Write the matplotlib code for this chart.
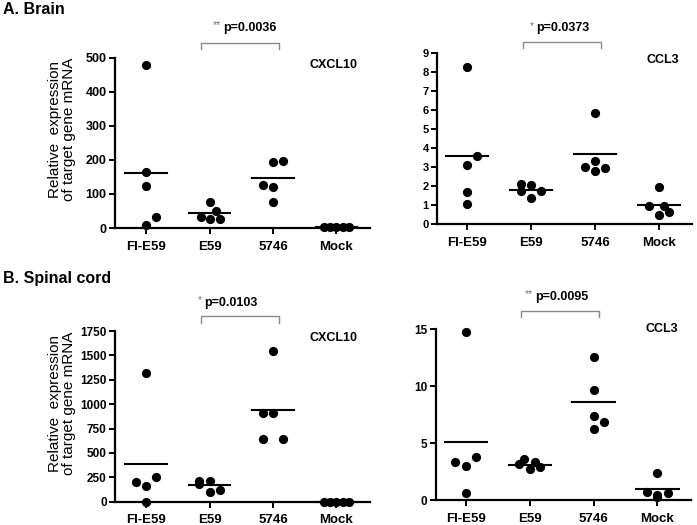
"""
Chemokine mRNA in brain and spinal cord: dot plots with group means.
"""
import matplotlib
matplotlib.use("Agg")
import matplotlib.pyplot as plt
import matplotlib.transforms as mtransforms

plt.rcParams["font.family"] = ["Liberation Sans", "DejaVu Sans"]

groups = ["FI-E59", "E59", "5746", "Mock"]

# A. Brain, CXCL10
brain_cxcl10 = [[478, 164, 124, 31, 10], [76, 49, 32, 26, 27],
                [195, 198, 127, 119, 76], [2, 2, 2, 2, 2]]
brain_cxcl10_mean = [162, 44, 146, 2]
brain_cxcl10_dx = [[0, 0, 0, 0.16, 0], [0, 0.1, -0.14, 0, 0.17],
                   [0, 0.16, -0.16, 0, 0], [-0.19, -0.1, 0, 0.1, 0.19]]

# A. Brain, CCL3
brain_ccl3 = [[8.30, 3.59, 3.13, 1.69, 1.07], [2.13, 2.04, 1.74, 1.74, 1.37],
              [5.87, 3.34, 2.99, 2.81, 2.97], [1.97, 0.93, 0.93, 0.47, 0.63]]
brain_ccl3_mean = [3.59, 1.81, 3.67, 1.02]
brain_ccl3_dx = [[0, 0.16, 0, 0, 0], [-0.16, 0, 0.16, -0.16, 0],
                 [0, 0, -0.16, 0, 0.16], [0, -0.16, 0.08, 0, 0.16]]

# B. Spinal cord, CXCL10
spinal_cxcl10 = [[1323, 256, 202, 161, 0], [215, 212, 185, 96, 120],
                 [1548, 912, 912, 639, 646], [0, 0, 0, 0, 0]]
spinal_cxcl10_mean = [390, 171, 936, 0]
spinal_cxcl10_dx = [[0, 0.16, -0.16, 0, 0], [-0.16, 0, -0.16, 0, 0.16],
                    [0, -0.16, 0, -0.16, 0.16], [-0.19, -0.1, 0, 0.1, 0.19]]

# B. Spinal cord, CCL3
spinal_ccl3 = [[14.7, 3.36, 3.74, 2.98, 0.58], [3.57, 3.30, 3.13, 2.69, 2.87],
               [12.57, 9.65, 7.40, 6.81, 6.23], [2.40, 0.73, 0.47, 0.58, 0.29]]
spinal_ccl3_mean = [5.12, 3.10, 8.60, 0.99]
spinal_ccl3_dx = [[0, -0.16, 0.16, 0, 0], [-0.08, 0.08, -0.16, 0, 0.16],
                  [0, 0, 0, 0.16, 0], [0, -0.16, 0, 0.16, 0]]


def dot_panel(ax, vals, means, dx, yticks, gene, stars, pval,
              xlim, bracket_y, text_y, text_x, ytick_size, gene_y=0.96):
    for i, (v, d) in enumerate(zip(vals, dx)):
        ax.scatter([i + o for o in d], v, s=44, color="black", zorder=3,
                   clip_on=False, linewidths=0)
        ax.plot([i - 0.33, i + 0.33], [means[i]] * 2, color="black",
                lw=1.5, zorder=2, clip_on=False)
    ax.set_xlim(*xlim)
    ax.set_ylim(yticks[0], yticks[-1])
    ax.set_yticks(yticks)
    ax.set_xticks(range(len(groups)))
    ax.set_xticklabels(groups, fontsize=9.5, fontweight="bold")
    for lab in ax.get_yticklabels():
        lab.set_fontweight("bold")
        lab.set_fontsize(ytick_size)
    for s in ("top", "right"):
        ax.spines[s].set_visible(False)
    for s in ("left", "bottom"):
        ax.spines[s].set_linewidth(1.6)
    ax.tick_params(axis="both", direction="out", width=1.4, length=4, pad=2)
    ax.tick_params(axis="x", pad=5)

    trans = mtransforms.blended_transform_factory(ax.transData, ax.transAxes)
    top, tick = bracket_y
    ax.plot([0.87, 0.87, 2.09, 2.09], [tick, top, top, tick], color="#8a8a8a",
            lw=1.0, transform=trans, clip_on=False)
    ax.text(text_x, text_y, pval, transform=trans, ha="left", va="center",
            fontsize=9, fontweight="bold")
    ax.annotate(stars, xy=(text_x, text_y), xycoords=trans,
                xytext=(-1.5, 2), textcoords="offset points",
                ha="right", va="center", fontsize=7.5, color="#777777")
    ax.text(0.95, gene_y, gene, transform=ax.transAxes, ha="right",
            va="center", fontsize=9, fontweight="bold")


fig = plt.figure(figsize=(6.97, 5.25), dpi=100)

ax1 = fig.add_axes([0.165, 0.5657, 0.366, 0.3244])
dot_panel(ax1, brain_cxcl10, brain_cxcl10_mean, brain_cxcl10_dx,
          [0, 100, 200, 300, 400, 500], "CXCL10", "**", "p=0.0036",
          (-0.49, 3.53), (1.088, 1.049), 1.174, 1.22, 9)

ax2 = fig.add_axes([0.627, 0.5733, 0.366, 0.325])
dot_panel(ax2, brain_ccl3, brain_ccl3_mean, brain_ccl3_dx,
          list(range(10)), "CCL3", "*", "p=0.0373",
          (-0.47, 3.52), (1.068, 1.029), 1.146, 1.08, 8)

ax3 = fig.add_axes([0.165, 0.0444, 0.366, 0.325])
dot_panel(ax3, spinal_cxcl10, spinal_cxcl10_mean, spinal_cxcl10_dx,
          [0, 250, 500, 750, 1000, 1250, 1500, 1750], "CXCL10", "*", "p=0.0103",
          (-0.49, 3.53), (1.088, 1.049), 1.166, 0.92, 8.5)

ax4 = fig.add_axes([0.625, 0.0476, 0.366, 0.3257])
dot_panel(ax4, spinal_ccl3, spinal_ccl3_mean, spinal_ccl3_dx,
          [0, 5, 10, 15], "CCL3", "**", "p=0.0095",
          (-0.47, 3.52), (1.107, 1.072), 1.189, 1.09, 8.5, gene_y=1.0)

ylab = "Relative  expression\nof target gene mRNA"
fig.text(0.089, 0.754, ylab, rotation=90, ha="center", va="center",
         fontsize=11, linespacing=1.0)
fig.text(0.089, 0.232, ylab, rotation=90, ha="center", va="center",
         fontsize=11, linespacing=1.0)

fig.text(0.005, 0.981, "A. Brain", ha="left", va="center",
         fontsize=11.5, fontweight="bold")
fig.text(0.005, 0.470, "B. Spinal cord", ha="left", va="center",
         fontsize=11.5, fontweight="bold")

fig.savefig("out.png", dpi=100)
